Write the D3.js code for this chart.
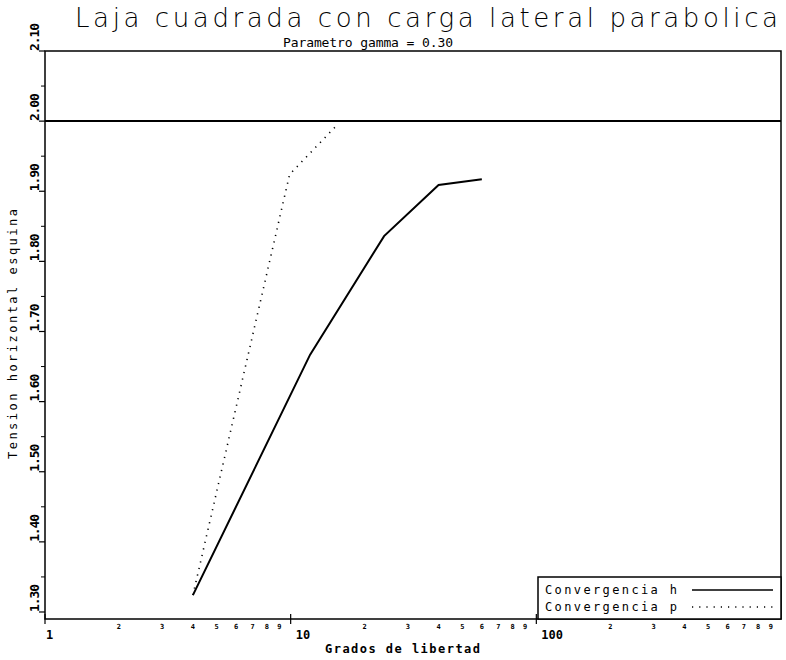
<!DOCTYPE html>
<html><head><meta charset="utf-8">
<script src="https://cdn.jsdelivr.net/npm/d3@7/dist/d3.min.js"></script>
<style>body{margin:0;background:#fff}svg{display:block}text{font-family:"DejaVu Sans Mono",monospace;fill:#000}</style>
</head><body>
<svg id="c" width="786" height="660"></svg>
<script>
const title = "Laja cuadrada con carga lateral parabolica";
const subtitle = "Parametro gamma = 0.30";
const xLabel = "Grados de libertad";
const yLabel = "Tension horizontal esquina";
const seriesNames = ["Convergencia h", "Convergencia p"];
const hDOF = [4, 12, 24, 40, 60];
const hVal = [1.324, 1.667, 1.836, 1.909, 1.917];
const pDOF = [4, 9.9, 15.4];
const pVal = [1.324, 1.924, 1.994];
const exactValue = 2.00;
const yTicks = [1.30, 1.40, 1.50, 1.60, 1.70, 1.80, 1.90, 2.00, 2.10];
const yMinorTicks = [1.35, 1.45, 1.55, 1.65, 1.75, 1.85, 1.95, 2.05];
const xMajor = [1, 10, 100];
const xMajorLabels = ["1", "10", "100"];
const xMinorDigits = [2, 3, 4, 5, 6, 7, 8, 9];

const svg = d3.select("#c");
const L = 45, R = 782, T = 51, B = 619;
const x = d3.scaleLog().domain([1, 1000]).range([L, R]);
const y = d3.scaleLinear().domain([1.29, 2.10]).range([B, T]);

svg.append("rect").attr("x", L).attr("y", T).attr("width", 781 - L).attr("height", B - T)
  .attr("fill", "none").attr("stroke", "#000").attr("stroke-width", 1.5);

svg.append("line").attr("x1", L).attr("x2", 781).attr("y1", y(exactValue)).attr("y2", y(exactValue))
  .attr("stroke", "#000").attr("stroke-width", 2);

const gy = svg.append("g");
gy.selectAll("line.maj").data(yTicks).join("line").attr("class", "maj")
  .attr("x1", L - 6).attr("x2", L).attr("y1", d => y(d)).attr("y2", d => y(d))
  .attr("stroke", "#000").attr("stroke-width", 1.2);
gy.selectAll("line.min").data(yMinorTicks).join("line").attr("class", "min")
  .attr("x1", L - 4).attr("x2", L).attr("y1", d => y(d)).attr("y2", d => y(d))
  .attr("stroke", "#000").attr("stroke-width", 1);
gy.selectAll("text").data(yTicks).join("text")
  .attr("transform", d => `translate(39,${y(d)}) rotate(-90)`)
  .attr("text-anchor", "start").attr("font-size", 13).attr("font-weight", "bold")
  .attr("textLength", 28).attr("lengthAdjust", "spacing")
  .text(d => d.toFixed(2));

const gx = svg.append("g");
gx.selectAll("line").data(xMajor).join("line")
  .attr("x1", d => x(d)).attr("x2", d => x(d)).attr("y1", B - 5).attr("y2", B + 5)
  .attr("stroke", "#000").attr("stroke-width", 1.2);
gx.selectAll("text.maj").data(xMajor).join("text").attr("class", "maj")
  .attr("x", (d, i) => x(d) + (i === 0 ? 1 : 5)).attr("y", 639)
  .attr("font-size", 12).attr("font-weight", "bold")
  .text((d, i) => xMajorLabels[i]);
const minorVals = [];
xMajor.forEach(m => xMinorDigits.forEach(k => minorVals.push({v: m * k, k})));
gx.selectAll("text.min").data(minorVals).join("text").attr("class", "min")
  .attr("x", d => x(d.v)).attr("y", 629).attr("text-anchor", "middle")
  .attr("font-size", 7).attr("font-weight", "bold").text(d => d.k);

const line = d3.line().x(d => x(d[0])).y(d => y(d[1]));
svg.append("path").datum(hDOF.map((d, i) => [d, hVal[i]])).attr("d", line)
  .attr("fill", "none").attr("stroke", "#000").attr("stroke-width", 2);
svg.append("path").datum(pDOF.map((d, i) => [d, pVal[i]])).attr("d", line)
  .attr("fill", "none").attr("stroke", "#000").attr("stroke-width", 1.6)
  .attr("stroke-dasharray", "1.2,5.5");

const lg = svg.append("g");
lg.append("rect").attr("x", 538).attr("y", 577).attr("width", 781 - 538).attr("height", B - 577)
  .attr("fill", "#fff").attr("stroke", "#000").attr("stroke-width", 1.5);
lg.selectAll("text").data(seriesNames).join("text")
  .attr("x", 545).attr("y", (d, i) => 594 + i * 17)
  .attr("font-size", 12).attr("textLength", 132).attr("lengthAdjust", "spacing").text(d => d);
lg.append("line").attr("x1", 692).attr("x2", 773).attr("y1", 590).attr("y2", 590)
  .attr("stroke", "#000").attr("stroke-width", 1.5);
lg.append("line").attr("x1", 692).attr("x2", 773).attr("y1", 607).attr("y2", 607)
  .attr("stroke", "#000").attr("stroke-width", 1.5).attr("stroke-dasharray", "1.2,6");

svg.append("text").attr("x", 75).attr("y", 27).attr("font-size", 26)
  .style("font-family", "'DejaVu Sans', sans-serif").attr("font-weight", 200)
  .attr("textLength", 703).attr("lengthAdjust", "spacing").text(title);
svg.append("text").attr("x", 283).attr("y", 47).attr("font-size", 13)
  .attr("textLength", 170).attr("lengthAdjust", "spacing").text(subtitle);
svg.append("text").attr("x", 325).attr("y", 653).attr("font-size", 12).attr("font-weight", "bold")
  .attr("textLength", 155).attr("lengthAdjust", "spacing").text(xLabel);
svg.append("text").attr("transform", "translate(17,459) rotate(-90)").attr("font-size", 12)
  .attr("textLength", 250).attr("lengthAdjust", "spacing").text(yLabel);
</script>
</body></html>
